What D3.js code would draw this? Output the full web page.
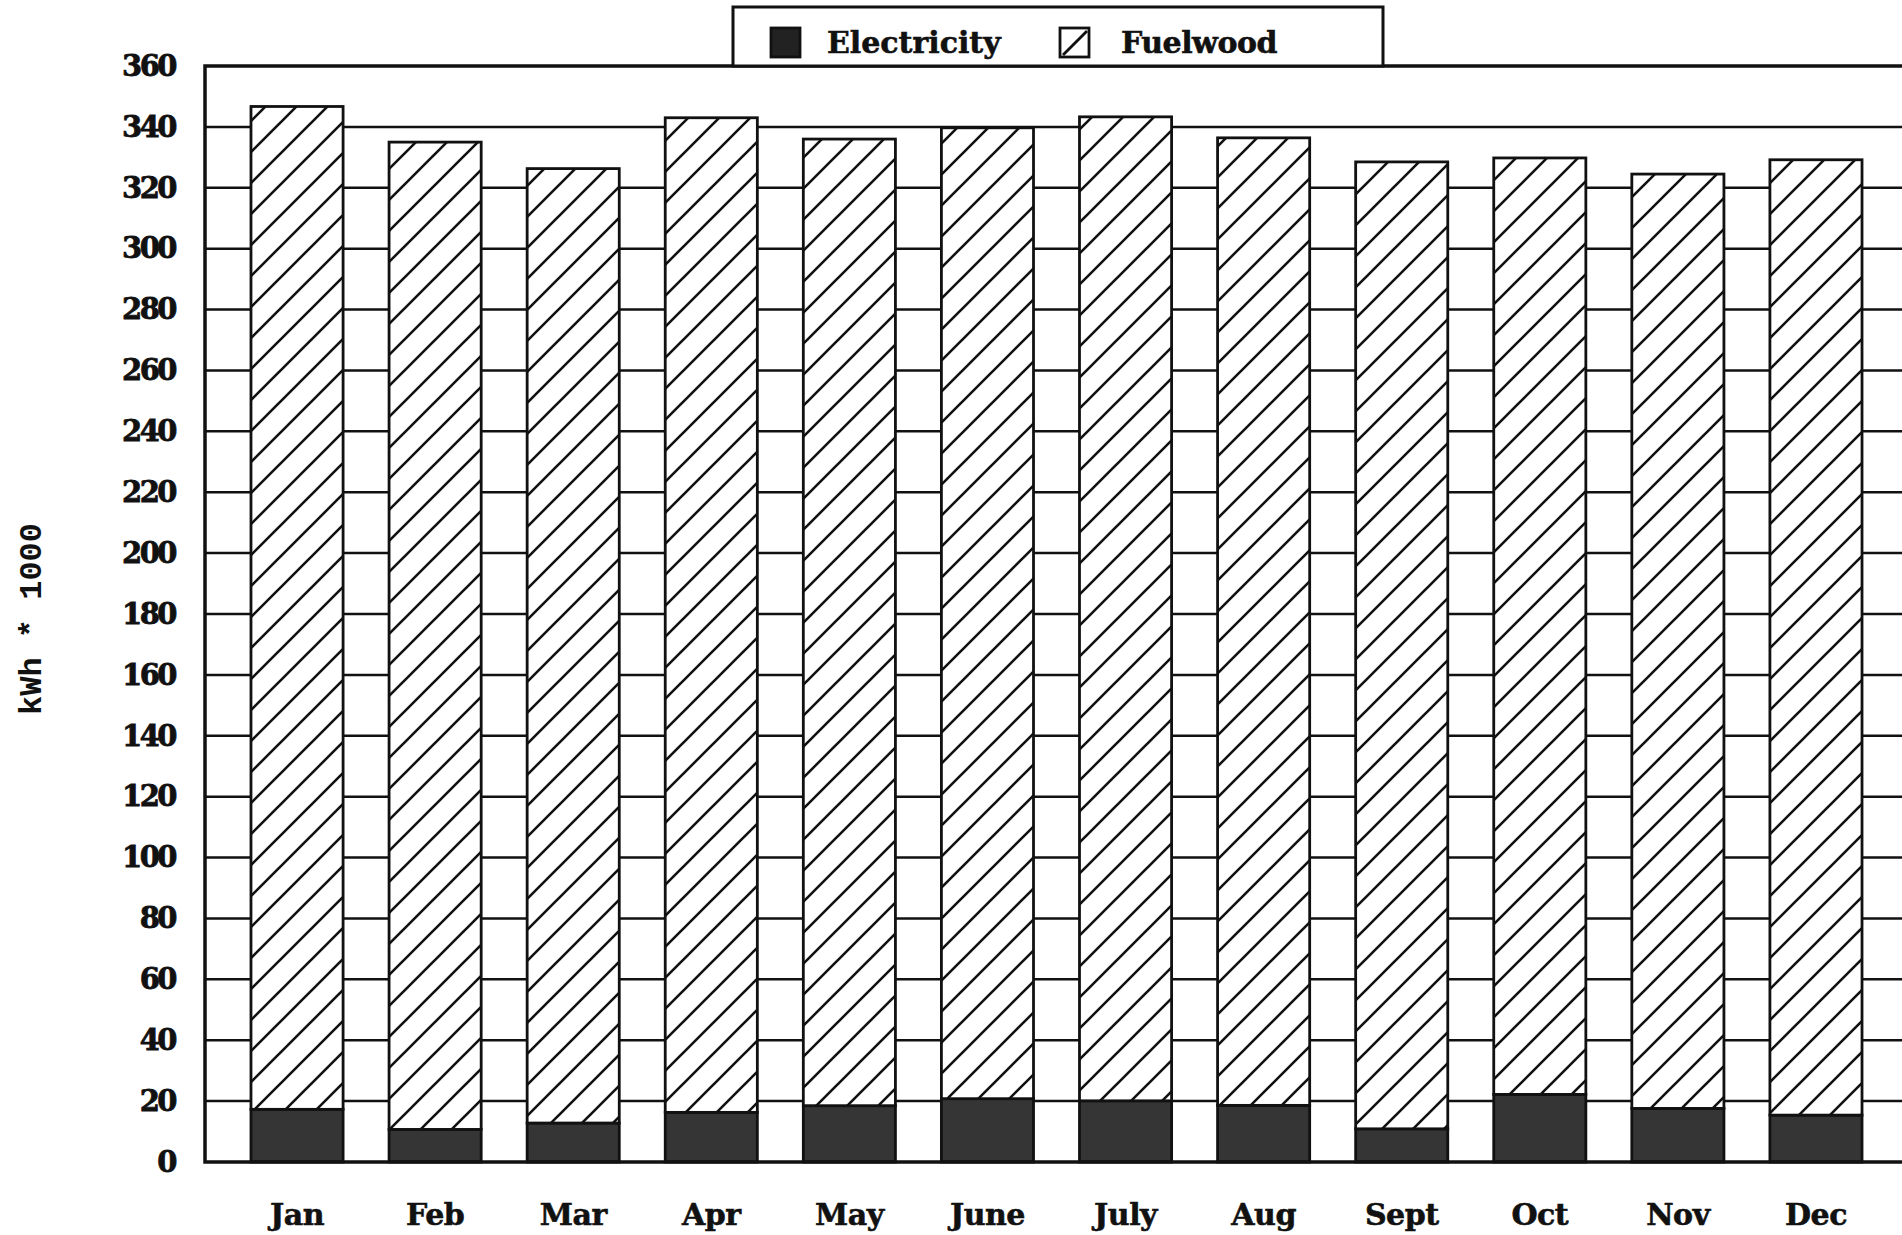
<!DOCTYPE html>
<html>
<head>
<meta charset="utf-8">
<script src="https://cdn.jsdelivr.net/npm/d3@7"></script>
<style>
  body { margin: 0; background: #fff; }
  svg { display: block; }
  .tick text { font-family: "DejaVu Serif", serif; font-weight: bold; }
</style>
</head>
<body>
<svg id="chart" width="1902" height="1235"></svg>
<script>
// months along the bottom
var months = ["Jan", "Feb", "Mar", "Apr", "May", "June", "July", "Aug", "Sept", "Oct", "Nov", "Dec"];
// kWh * 1000
var electricity = [17.3, 10.7, 12.8, 16.3, 18.5, 20.8, 20.1, 18.6, 10.9, 22.2, 17.6, 15.4];
var fuelwood = [329.4, 324.3, 313.5, 326.7, 317.5, 318.9, 323.2, 317.8, 317.6, 307.6, 306.9, 313.8];
var yTicks = [0, 20, 40, 60, 80, 100, 120, 140, 160, 180, 200, 220, 240, 260, 280, 300, 320, 340, 360];
var seriesNames = ["Electricity", "Fuelwood"];

var svg = d3.select("#chart");
// (window.top is taken, so plot* names)
var plotLeft = 205, plotRight = 1908, plotTop = 66, plotBottom = 1162;

var x = d3.scaleBand().domain(months).range([plotLeft, plotRight]).paddingInner(0.333).paddingOuter(0.333);
var y = d3.scaleLinear().domain([0, 360]).range([plotBottom, plotTop]);

// hatch pattern for fuelwood
var defs = svg.append("defs");
var pat = defs.append("pattern")
  .attr("id", "hatch")
  .attr("patternUnits", "userSpaceOnUse")
  .attr("width", 31).attr("height", 31);
pat.append("rect").attr("width", 31).attr("height", 31).attr("fill", "#fff");
pat.append("path")
  .attr("d", "M0,31 L31,0 M-6,6 L6,-6 M25,37 L37,25")
  .attr("stroke", "#111").attr("stroke-width", 2.6);

// grid lines (bars sit on top of them)
svg.append("g").selectAll("line")
  .data(yTicks.filter(function(d){ return d > 0 && d < 360; }))
  .join("line")
  .attr("x1", plotLeft).attr("x2", 1902)
  .attr("y1", function(d){ return y(d); }).attr("y2", function(d){ return y(d); })
  .attr("stroke", "#111").attr("stroke-width", 2.5);

// stacked data
var rows = months.map(function(m, i){
  return { month: m, Electricity: electricity[i], Fuelwood: fuelwood[i] };
});
var stacked = d3.stack().keys(seriesNames)(rows);
console.log(stacked);

var fills = { Electricity: "#353535", Fuelwood: "url(#hatch)" };

svg.append("g").selectAll("g")
  .data(stacked)
  .join("g")
  .attr("fill", function(d){ return fills[d.key]; })
  .selectAll("rect")
  .data(function(d){ return d; })
  .join("rect")
  .attr("x", function(d){ return x(d.data.month); })
  .attr("width", x.bandwidth())
  .attr("y", function(d){ return y(d[1]); })
  .attr("height", function(d){ return y(d[0]) - y(d[1]); })
  .attr("stroke", "#111")
  .attr("stroke-width", 2.8);

// frame
svg.append("rect")
  .attr("x", plotLeft).attr("y", plotTop)
  .attr("width", plotRight - plotLeft).attr("height", plotBottom - plotTop)
  .attr("fill", "none").attr("stroke", "#111").attr("stroke-width", 3.5);

// y axis
var yAxis = svg.append("g")
  .attr("transform", "translate(" + plotLeft + ",0)")
  .call(d3.axisLeft(y).tickValues(yTicks).tickSize(0).tickPadding(30));
yAxis.select(".domain").remove();
yAxis.selectAll("text")
  .attr("font-size", 29).attr("fill", "#111").attr("letter-spacing", -2.5)
  .attr("stroke", "#111").attr("stroke-width", 0.8);

// x axis labels
var xAxis = svg.append("g")
  .attr("transform", "translate(0," + plotBottom + ")")
  .call(d3.axisBottom(x).tickSize(0).tickPadding(42));
xAxis.select(".domain").remove();
xAxis.selectAll("text")
  .attr("font-size", 30).attr("fill", "#111").attr("letter-spacing", -0.5)
  .attr("stroke", "#111").attr("stroke-width", 0.6);

// y title
svg.append("text")
  .attr("transform", "translate(41,619) rotate(-90)")
  .attr("text-anchor", "middle")
  .attr("font-family", "Liberation Mono, monospace")
  .attr("font-weight", "bold")
  .attr("font-size", 32)
  .attr("fill", "#111")
  .text("kWh * 1000");

// legend
var legend = svg.append("g");
legend.append("rect")
  .attr("x", 733).attr("y", 7).attr("width", 650).attr("height", 59)
  .attr("fill", "#fff").attr("stroke", "#111").attr("stroke-width", 3);
var legendX = [771, 1060];
var legendItems = legend.selectAll("g")
  .data(seriesNames)
  .join("g")
  .attr("transform", function(d, i){ return "translate(" + legendX[i] + ",28)"; });
legendItems.append("rect")
  .attr("width", 29).attr("height", 29)
  .attr("fill", function(d){ return d == "Electricity" ? "#222" : "#fff"; })
  .attr("stroke", "#111").attr("stroke-width", 2.8);
legendItems.filter(function(d){ return d == "Fuelwood"; })
  .append("path")
  .attr("d", "M3,27 L27,3")
  .attr("stroke", "#111").attr("stroke-width", 2.8);
legendItems.append("text")
  .attr("x", function(d, i){ return i == 0 ? 56 : 61; })
  .attr("y", 25)
  .attr("font-family", "DejaVu Serif, serif")
  .attr("font-weight", "bold")
  .attr("font-size", 30)
  .attr("letter-spacing", function(d, i){ return i == 0 ? 0 : -0.5; })
  .attr("fill", "#111")
  .attr("stroke", "#111").attr("stroke-width", 0.6)
  .text(function(d){ return d; });
</script>
</body>
</html>
